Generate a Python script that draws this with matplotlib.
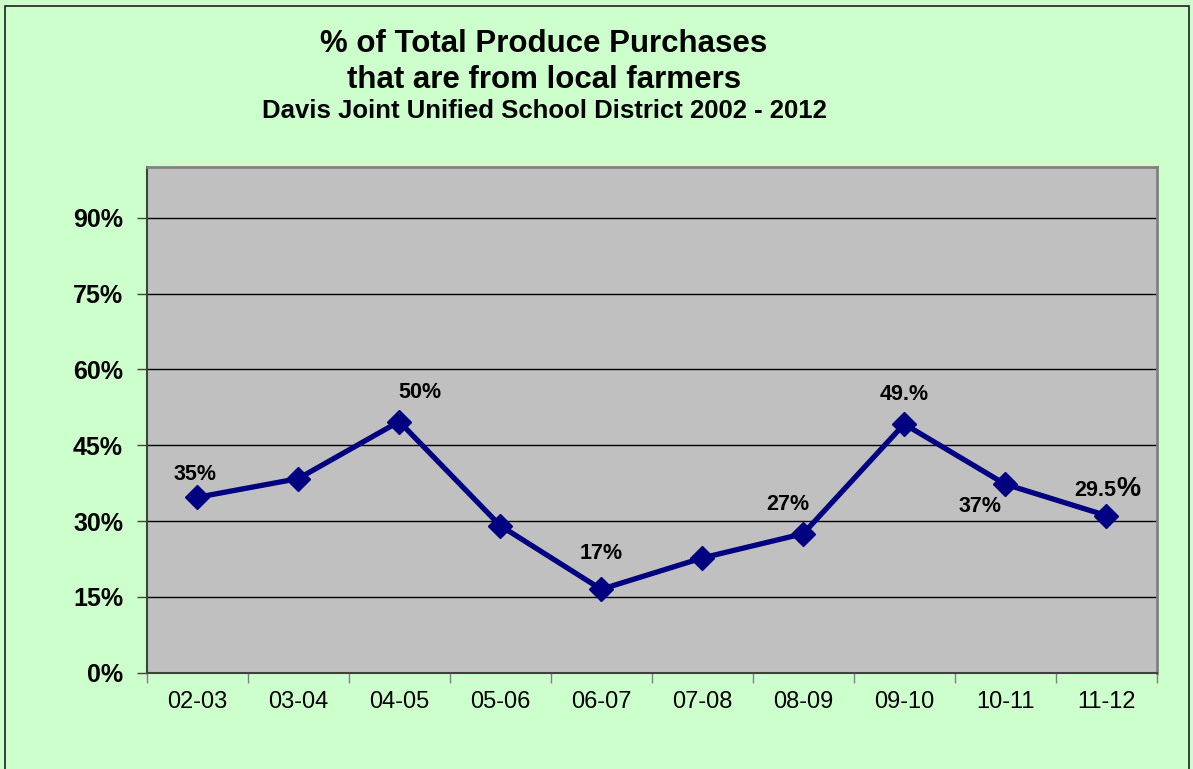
import matplotlib
matplotlib.use("Agg")
import matplotlib.pyplot as plt
from matplotlib.patches import Rectangle
from matplotlib.ticker import FixedLocator, NullFormatter

# ---- data ----
seasons = ["02-03", "03-04", "04-05", "05-06", "06-07", "07-08", "08-09", "09-10", "10-11", "11-12"]
local_pct = [34.7, 38.4, 49.7, 29.1, 16.5, 22.7, 27.5, 49.2, 37.3, 31.1]
y_ticks = [0, 15, 30, 45, 60, 75, 90]
y_tick_labels = ["0%", "15%", "30%", "45%", "60%", "75%", "90%"]
point_label_idx = [0, 2, 4, 6, 7, 8]
point_label_text = ["35%", "50%", "17%", "27%", "49.%", "37%"]
last_label_num = "29.5"
last_label_sign = "%"

title1 = "% of Total Produce Purchases"
title2 = "that are from local farmers"
title3 = "Davis Joint Unified School District 2002 - 2012"

# ---- layout ----
W, H = 1193, 769
FONT = "Liberation Sans"
plt.rcParams["font.family"] = [FONT, "DejaVu Sans"]

fig = plt.figure(figsize=(W / 100, H / 100), dpi=100, facecolor="#CCFFCC")
ax = fig.add_axes([146.7 / W, 1 - 672.7 / H, (1156.7 - 146.7) / W, (672.7 - 167.3) / H])
ax.set_facecolor("#C0C0C0")

x = list(range(len(seasons)))
ax.plot(x, local_pct, color="#000080", lw=3.8, marker="D", markersize=12.5,
        markerfacecolor="#000080", markeredgecolor="#000080", zorder=5)

ax.set_xlim(-0.5, len(seasons) - 0.5)
ax.set_ylim(0, 100)

# gridlines
for yv in y_ticks[1:]:
    ax.axhline(yv, color="black", lw=1.0, zorder=1)

ax.set_yticks(y_ticks)
ax.set_yticklabels(y_tick_labels, fontsize=18, fontweight="bold")
ax.tick_params(axis="y", direction="out", length=7, width=1, color="#404040", pad=10)

ax.xaxis.set_major_locator(FixedLocator([i - 0.5 for i in range(len(seasons) + 1)]))
ax.xaxis.set_major_formatter(NullFormatter())
ax.xaxis.set_minor_locator(FixedLocator(x))
ax.set_xticklabels(seasons, minor=True, fontsize=17)
ax.tick_params(axis="x", which="major", direction="out", length=7, width=1, color="#808080")
ax.tick_params(axis="x", which="minor", length=0, pad=13)

for side in ["left", "bottom"]:
    ax.spines[side].set_color("#404040")
    ax.spines[side].set_linewidth(1.5)
for side in ["top", "right"]:
    ax.spines[side].set_color("#808080")
    ax.spines[side].set_linewidth(2)

# data labels (offsets in pixels, baseline-anchored)
offsets = [(-2, 17), (21, 24), (0, 30), (-15, 24), (0, 24), (-25, -28)]
for idx, txt, (dx, dy) in zip(point_label_idx, point_label_text, offsets):
    ax.annotate(txt, (x[idx], local_pct[idx]), xytext=(dx, dy), textcoords="offset pixels",
                ha="center", va="baseline", fontsize=15.5, fontweight="bold", zorder=6)
ax.annotate(last_label_num, (x[-1], local_pct[-1]), xytext=(10, 20), textcoords="offset pixels",
            ha="right", va="baseline", fontsize=15.5, fontweight="bold", zorder=6)
ax.annotate(last_label_sign, (x[-1], local_pct[-1]), xytext=(10, 20), textcoords="offset pixels",
            ha="left", va="baseline", fontsize=19.5, fontweight="bold", zorder=6)

# titles
cx = 544 / W
fig.text(cx, 1 - 52 / H, title1, ha="center", va="baseline", fontsize=22.5, fontweight="bold")
fig.text(cx, 1 - 88 / H, title2, ha="center", va="baseline", fontsize=22.5, fontweight="bold")
fig.text(cx, 1 - 118 / H, title3, ha="center", va="baseline", fontsize=18.5, fontweight="bold")

# outer chart frame
fig.add_artist(Rectangle((5 / W, -0.05), (1189 - 5) / W, 1.05 - 5.5 / H,
                         transform=fig.transFigure, fill=False, edgecolor="#202020", lw=1.2))

fig.savefig("out.png", dpi=100, facecolor=fig.get_facecolor())
